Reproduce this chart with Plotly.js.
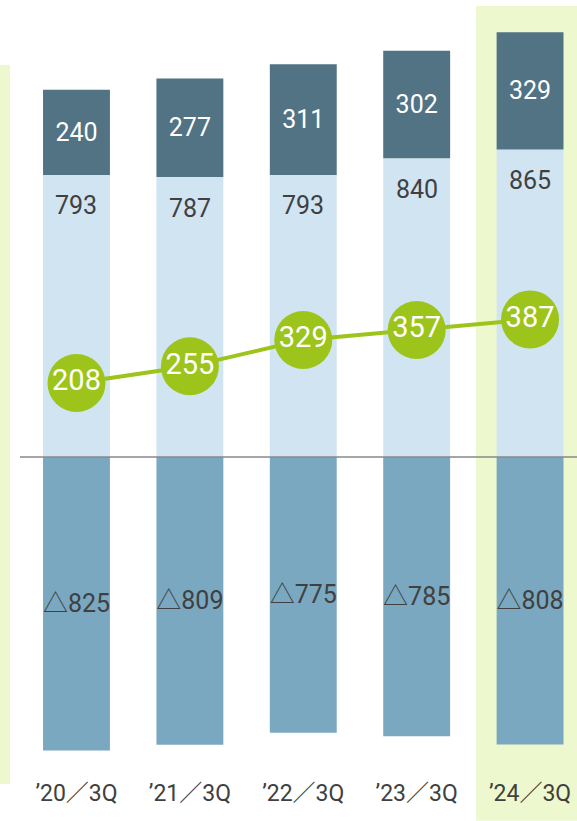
<!DOCTYPE html>
<html>
<head>
<meta charset="utf-8">
<script src="https://cdn.plot.ly/plotly-3.0.1.min.js"></script>
<style>html,body{margin:0;padding:0;background:#fff;}#chart{width:577px;height:821px;}</style>
</head>
<body>
<div id="chart"></div>
<script>
const categories = ["’20／3Q", "’21／3Q", "’22／3Q", "’23／3Q", "’24／3Q"];
const lightVals = [793, 787, 793, 840, 865];
const darkVals = [240, 277, 311, 302, 329];
const negVals = [825, 809, 775, 785, 808];
const lineVals = [208, 255, 329, 357, 387];

const FONT = 'Roboto, "Noto Sans CJK JP", sans-serif';
const xIdx = categories.map((c, i) => i);

const traces = [
  {
    type: 'bar', x: xIdx, y: lightVals, width: 0.59,
    marker: {color: '#D0E4F1'}, hoverinfo: 'skip', textposition: 'none'
  },
  {
    type: 'bar', x: xIdx, y: darkVals, width: 0.59,
    marker: {color: '#527384'}, hoverinfo: 'skip',
    text: darkVals.map(String), textposition: 'inside', insidetextanchor: 'middle',
    textangle: 0, constraintext: 'none',
    textfont: {family: FONT, size: 25, color: '#ffffff'}
  },
  {
    type: 'bar', x: xIdx, y: negVals.map(v => -v), width: 0.59,
    marker: {color: '#7AA8C0'}, hoverinfo: 'skip',
    text: negVals.map(v => '△' + v), textposition: 'inside', insidetextanchor: 'middle',
    textangle: 0, constraintext: 'none',
    textfont: {family: FONT, size: 25, color: '#404040'}
  },
  {
    type: 'scatter', mode: 'lines+markers+text', x: xIdx, y: lineVals,
    line: {color: '#9DC41A', width: 4},
    marker: {color: '#9DC41A', size: 58},
    text: lineVals.map(String), textposition: 'middle center',
    textfont: {family: FONT, size: 29, color: '#ffffff'},
    hoverinfo: 'skip', cliponaxis: false
  }
];

const annotations = lightVals.map((v, i) => ({
  x: i, y: v, xref: 'x', yref: 'y', text: String(v), showarrow: false,
  yanchor: 'middle', yshift: -31,
  font: {family: FONT, size: 25, color: '#404040'}
}));

const layout = {
  width: 577, height: 821,
  margin: {l: 0, r: 0, t: 0, b: 51},
  paper_bgcolor: '#ffffff', plot_bgcolor: 'rgba(0,0,0,0)',
  barmode: 'relative', showlegend: false,
  font: {family: FONT, color: '#404040'},
  xaxis: {
    range: [-0.6746, 4.414], tickmode: 'array', tickvals: xIdx, ticktext: categories,
    showgrid: false, zeroline: false, showline: false, ticks: '',
    ticklabelstandoff: 7,
    tickfont: {family: FONT, size: 23, color: '#404040'}, fixedrange: true
  },
  yaxis: {
    range: [-880, 1285], visible: false, showgrid: false, zeroline: false, fixedrange: true
  },
  shapes: [
    {type: 'rect', xref: 'paper', yref: 'paper', x0: 476/577, x1: 1, y0: -0.066, y1: 0.9922,
     fillcolor: '#EDF8CF', line: {width: 0}, layer: 'below'},
    {type: 'rect', xref: 'paper', yref: 'paper', x0: 0, x1: 10/577, y0: -0.0182, y1: 0.9156,
     fillcolor: '#EDF8CF', line: {width: 0}, layer: 'below'},
    {type: 'line', xref: 'paper', yref: 'y', x0: 20/577, x1: 1, y0: 0, y1: 0,
     line: {color: '#888888', width: 1.5}, layer: 'above'}
  ],
  annotations: annotations
};

Plotly.newPlot('chart', traces, layout, {displayModeBar: false, staticPlot: true});
</script>
</body>
</html>
